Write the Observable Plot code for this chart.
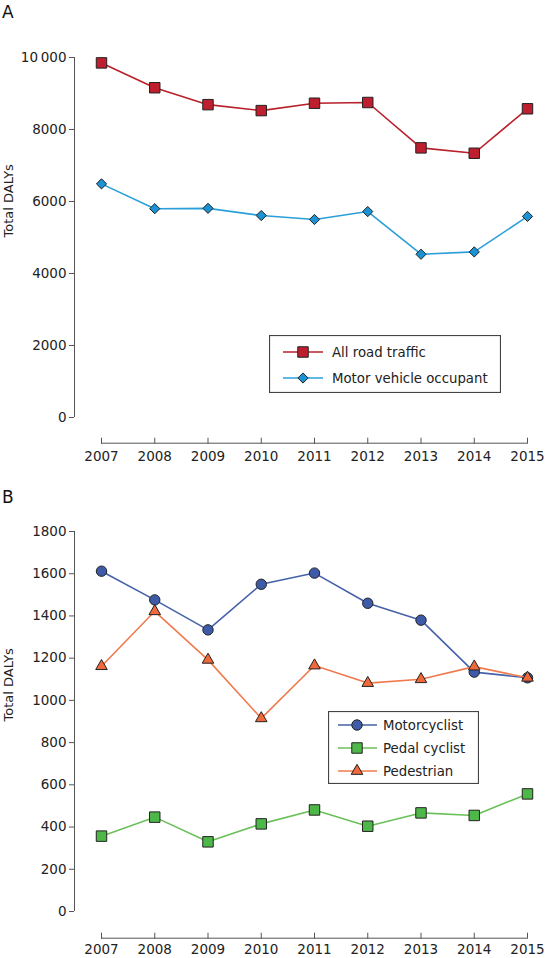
<!DOCTYPE html>
<html><head><meta charset="utf-8">
<script src="https://cdn.jsdelivr.net/npm/d3@7"></script>
<script src="https://cdn.jsdelivr.net/npm/@observablehq/plot@0.6"></script>
<style>
body{margin:0;background:#fff;font-family:"DejaVu Sans",sans-serif;}
#wrap{position:relative;width:555px;height:958px;overflow:hidden;}
.panel{position:absolute;left:0;}
.lab{position:absolute;font-size:17px;line-height:17px;color:#111;}
.leg{position:absolute;}
</style></head><body><div id="wrap"></div>
<script>
// ---- data ----
const years = [2007, 2008, 2009, 2010, 2011, 2012, 2013, 2014, 2015];
const allRoadTraffic = [9850, 9160, 8690, 8525, 8730, 8750, 7490, 7340, 8575];
const motorVehicleOccupant = [6490, 5800, 5810, 5610, 5500, 5720, 4535, 4600, 5585];
const motorcyclist = [1612, 1476, 1334, 1550, 1603, 1460, 1380, 1134, 1107];
const pedalCyclist = [357, 447, 330, 415, 481, 404, 467, 455, 557];
const pedestrian = [1162, 1422, 1192, 915, 1165, 1082, 1100, 1160, 1107];
const ticksA = [0, 2000, 4000, 6000, 8000, 10000];
const ticksB = [0, 200, 400, 600, 800, 1000, 1200, 1400, 1600, 1800];
const yLabel = "Total DALYs";

const seriesA = [
  {name: "All road traffic", values: allRoadTraffic, line: "#B8202A", fill: "#BE1E2D", symbol: "square", r: 5.9},
  {name: "Motor vehicle occupant", values: motorVehicleOccupant, line: "#2A9FD8", fill: "#1B92D4", symbol: "diamond2", r: 4.6}
];
const seriesB = [
  {name: "Motorcyclist", values: motorcyclist, line: "#4562A8", fill: "#3D5BA8", symbol: "circle", r: 5.2},
  {name: "Pedal cyclist", values: pedalCyclist, line: "#6CC05A", fill: "#4DB848", symbol: "square", r: 5.9},
  {name: "Pedestrian", values: pedestrian, line: "#F07A4E", fill: "#F0693A", symbol: "triangle", r: 4.3}
];

const FONT = "'DejaVu Sans', sans-serif";
const AX = "#555";
const fmt = d => d >= 10000 ? d3.format(",")(d).replace(",", "\u2009") : String(d);

function panel({height, marginTop, marginBottom, yMax, yTicks, series, axisGap, labelPad}) {
  const marks = [
    Plot.axisY(yTicks, {anchor: "left", dx: -27, tickSize: 5, tickPadding: 3, tickFormat: fmt, stroke: AX, label: null}),
    Plot.ruleX([years[0]], {y1: 0, y2: yMax, dx: -27, stroke: AX}),
    Plot.axisX(years, {anchor: "top", dy: (height - marginTop - marginBottom) + axisGap, tickSize: 6, tickFormat: () => "", stroke: AX, label: null}),
    Plot.ruleY([0], {x1: years[0], x2: years[years.length - 1], dy: axisGap, stroke: AX}),
    Plot.axisX(years, {anchor: "bottom", dy: axisGap, tickSize: 0, tickPadding: labelPad, tickFormat: d => String(d), label: null}),
    Plot.text([yLabel], {frameAnchor: "left", rotate: -90, dx: -93, fontSize: 13, fill: "#222"})
  ];
  for (const s of series) {
    const data = years.map((year, i) => ({year, value: s.values[i]}));
    marks.push(Plot.line(data, {x: "year", y: "value", stroke: s.line, strokeWidth: 1.6}));
    marks.push(Plot.dot(data, {x: "year", y: "value", symbol: s.symbol, r: s.r, fill: s.fill, stroke: "#222", strokeWidth: 1}));
  }
  return Plot.plot({
    width: 555, height,
    marginLeft: 101, marginRight: 28, marginTop, marginBottom,
    x: {domain: [years[0], years[years.length - 1]]},
    y: {domain: [0, yMax]},
    style: {fontFamily: FONT, fontSize: "13.5px", color: "#222", background: "#fff"},
    marks
  });
}

const symMap = {square: d3.symbolSquare, diamond2: d3.symbolDiamond2, circle: d3.symbolCircle, triangle: d3.symbolTriangle};

function legend(series, {left, top, w, h, rows, x1, x2, xm, xt}) {
  const svg = d3.create("svg").attr("class", "leg").attr("width", w).attr("height", h)
    .style("left", left + "px").style("top", top + "px");
  svg.append("rect").attr("x", 0.5).attr("y", 0.5).attr("width", w - 1).attr("height", h - 1)
    .attr("fill", "#fff").attr("stroke", "#444").attr("stroke-width", 1.2);
  series.forEach((s, i) => {
    const y = rows[i];
    svg.append("line").attr("x1", x1).attr("x2", x2).attr("y1", y).attr("y2", y).attr("stroke", s.line).attr("stroke-width", 1.6);
    svg.append("path").attr("transform", `translate(${xm},${y})`)
      .attr("d", d3.symbol(symMap[s.symbol], Math.PI * s.r * s.r)())
      .attr("fill", s.fill).attr("stroke", "#222").attr("stroke-width", 1);
    svg.append("text").attr("x", xt).attr("y", y).attr("dy", "0.36em")
      .attr("font-family", FONT).attr("font-size", 13.3).attr("fill", "#222").text(s.name);
  });
  return svg.node();
}

const wrap = document.getElementById("wrap");
const pA = panel({height: 470, marginTop: 57, marginBottom: 53, yMax: 10000, yTicks: ticksA, series: seriesA, axisGap: 25.7, labelPad: 8});
pA.classList.add("panel"); pA.style.top = "0px";
const pB = panel({height: 488, marginTop: 61, marginBottom: 47, yMax: 1800, yTicks: ticksB, series: seriesB, axisGap: 26.7, labelPad: 6});
pB.classList.add("panel"); pB.style.top = "470px";
wrap.appendChild(pA); wrap.appendChild(pB);

const la = document.createElement("div"); la.className = "lab"; la.textContent = "A"; la.style.left = "2px"; la.style.top = "4px"; wrap.appendChild(la);
const lb = document.createElement("div"); lb.className = "lab"; lb.textContent = "B"; lb.style.left = "2px"; lb.style.top = "489px"; wrap.appendChild(lb);

wrap.appendChild(legend(seriesA, {left: 269, top: 335, w: 232, h: 58, rows: [17, 43], x1: 14, x2: 54, xm: 34, xt: 63}));
wrap.appendChild(legend(seriesB, {left: 328, top: 711, w: 151, h: 73, rows: [14, 37, 60], x1: 10, x2: 49, xm: 29, xt: 55}));
</script></body></html>
